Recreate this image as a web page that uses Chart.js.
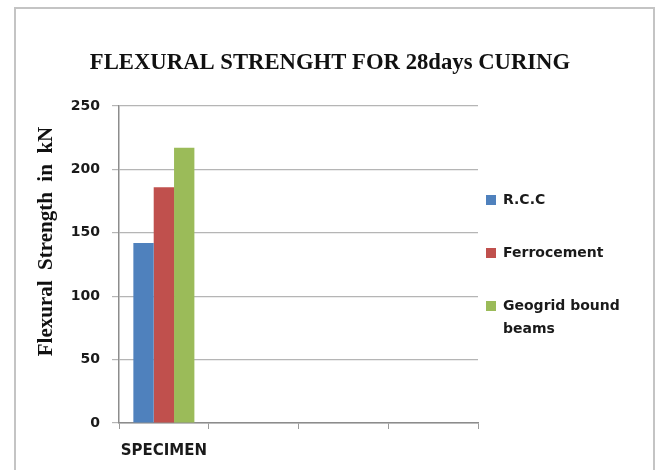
<!DOCTYPE html>
<html>
<head>
<meta charset="utf-8">
<script src="https://cdn.jsdelivr.net/npm/chart.js@4/dist/chart.umd.min.js"></script>
<style>
  html, body { margin: 0; padding: 0; background: #ffffff; }
  #wrap { width: 662px; height: 470px; position: relative; }
</style>
</head>
<body>
<div id="wrap"><canvas id="chart" width="662" height="470"></canvas></div>
<script>
// Flexural strength of beams after 28 days of curing
const categories = ["SPECIMEN", "", "", ""];
const seriesNames = ["R.C.C", "Ferrocement", "Geogrid bound beams"];
const rccValues = [142];
const ferrocementValues = [186];
const geogridValues = [217];
const yTicks = [0, 50, 100, 150, 200, 250];

const colors = ["#4F81BD", "#C0504D", "#9BBB59"];
const legendLines = [["R.C.C"], ["Ferrocement"], ["Geogrid bound", "beams"]];
const chartTitle = "FLEXURAL STRENGHT FOR 28days CURING";
const yAxisTitle = "Flexural  Strength  in  kN";

// Frame around the whole chart, the title and the vertical axis title
const framePlugin = {
  id: "frame",
  beforeDraw(chart) {
    const ctx = chart.ctx;
    ctx.save();
    ctx.fillStyle = "#ffffff";
    ctx.fillRect(0, 0, chart.width, chart.height);
    ctx.strokeStyle = "#c4c4c4";
    ctx.lineWidth = 2;
    ctx.strokeRect(15, 8, 639, 480);
    ctx.restore();
  },
  afterDraw(chart) {
    const ctx = chart.ctx;
    ctx.save();
    ctx.fillStyle = "#111111";
    ctx.font = "bold 22.7px 'Liberation Serif', 'Times New Roman', serif";
    ctx.textAlign = "center";
    ctx.textBaseline = "middle";
    ctx.fillText(chartTitle, 330, 63);

    ctx.translate(47, 241.5);
    ctx.rotate(-Math.PI / 2);
    ctx.font = "bold 21px 'Liberation Serif', 'Times New Roman', serif";
    ctx.fillText(yAxisTitle, 0, 0);
    ctx.restore();
  }
};

// Legend at the right, built from the datasets
const sideLegendPlugin = {
  id: "sideLegend",
  afterDraw(chart) {
    const ctx = chart.ctx;
    const area = chart.chartArea;
    const x = area.right + 8;
    const lineH = 23;
    const gap = 30;
    const items = chart.data.datasets.map((ds, i) => ({
      color: ds.backgroundColor,
      lines: legendLines[i] || [ds.label]
    }));
    let total = 0;
    items.forEach((it, i) => { total += it.lines.length * lineH + (i ? gap : 0); });
    let y = (area.top + area.bottom) / 2 - total / 2 + lineH / 2;
    ctx.save();
    ctx.font = "bold 14px 'DejaVu Sans', sans-serif";
    ctx.textBaseline = "middle";
    ctx.textAlign = "left";
    items.forEach((it) => {
      ctx.fillStyle = it.color;
      ctx.fillRect(x, y - 5, 10, 10);
      ctx.fillStyle = "#1a1a1a";
      it.lines.forEach((t, k) => {
        ctx.fillText(t, x + 17, y + k * lineH);
      });
      y += it.lines.length * lineH + gap;
    });
    ctx.restore();
  }
};

new Chart(document.getElementById("chart"), {
  type: "bar",
  data: {
    labels: categories,
    datasets: [
      { label: seriesNames[0], data: rccValues, backgroundColor: colors[0] },
      { label: seriesNames[1], data: ferrocementValues, backgroundColor: colors[1] },
      { label: seriesNames[2], data: geogridValues, backgroundColor: colors[2] }
    ]
  },
  options: {
    responsive: false,
    animation: false,
    devicePixelRatio: 1,
    layout: { padding: { left: 0, right: 184, top: 106, bottom: 0 } },
    datasets: { bar: { categoryPercentage: 0.68, barPercentage: 1.0 } },
    plugins: {
      legend: { display: false },
      title: { display: false },
      tooltip: { enabled: false }
    },
    scales: {
      x: {
        grid: {
          offset: true,
          drawOnChartArea: false,
          drawTicks: true,
          tickLength: 6,
          color: "#9a9a9a"
        },
        border: { color: "#8c8c8c", width: 1.5 },
        ticks: {
          color: "#1a1a1a",
          padding: 13,
          maxRotation: 0,
          autoSkip: false,
          font: { family: "'DejaVu Sans', sans-serif", size: 15, weight: "bold" }
        },
        afterFit(scale) { scale.height = 47; }
      },
      y: {
        min: 0,
        max: 250,
        afterBuildTicks(scale) { scale.ticks = yTicks.map(v => ({ value: v })); },
        grid: {
          color: "#b5b5b5",
          lineWidth: 1.2,
          drawTicks: true,
          tickLength: 7
        },
        border: { color: "#8c8c8c", width: 1.5 },
        ticks: {
          color: "#1a1a1a",
          padding: 12,
          font: { family: "'DejaVu Sans', sans-serif", size: 14, weight: "bold" }
        },
        afterFit(scale) { scale.width = 119; }
      }
    }
  },
  plugins: [framePlugin, sideLegendPlugin]
});
</script>
</body>
</html>
